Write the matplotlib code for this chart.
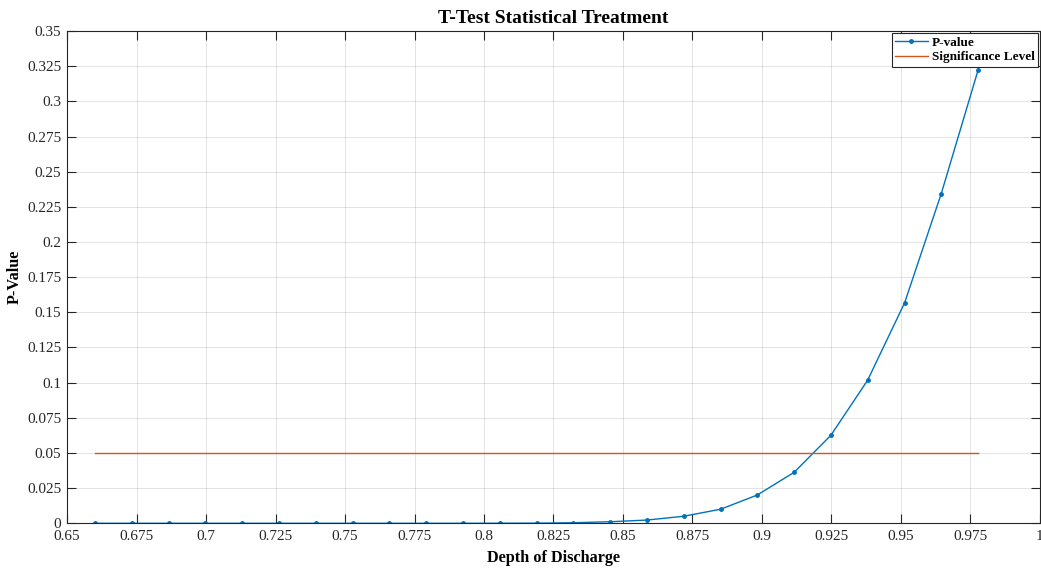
import numpy as np
import matplotlib
matplotlib.use('Agg')
import matplotlib.pyplot as plt

# depth of discharge values and the t-test p-values
dod = [0.6600, 0.6732, 0.6865, 0.6997, 0.7130, 0.7262, 0.7394, 0.7527, 0.7659,
       0.7792, 0.7924, 0.8056, 0.8189, 0.8321, 0.8454, 0.8586, 0.8718, 0.8851,
       0.8983, 0.9116, 0.9248, 0.9380, 0.9513, 0.9645, 0.9778]
p_value = [0.0, 0.0, 0.0, 0.0, 0.0, 0.0, 0.0, 0.0, 0.0,
           0.0, 0.0, 0.00005, 0.0001, 0.0004, 0.0011, 0.0023, 0.0050, 0.0100,
           0.0201, 0.0363, 0.0626, 0.1017, 0.1567, 0.2344, 0.3226]
alpha = 0.05

plt.rcParams['font.family'] = ['Liberation Serif', 'DejaVu Serif']

fig = plt.figure(figsize=(10.41, 5.68), dpi=100)
ax = fig.add_axes([0.0644, 0.0787, 0.9346, 0.8667])

ax.plot(dod, p_value, color='#0072BD', marker='.', markersize=5, linewidth=1.0, label='P-value')
ax.plot([dod[0], dod[-1]], [alpha, alpha], color='#D95319', linewidth=1.0, label='Significance Level')

ax.set_xlim(0.65, 1.0)
ax.set_ylim(0, 0.35)
xt = np.arange(0.65, 1.0001, 0.025)
yt = np.arange(0, 0.3501, 0.025)
ax.set_xticks(xt)
ax.set_yticks(yt)
ax.set_xticklabels(['%g' % round(v, 3) for v in xt])
ax.set_yticklabels(['%g' % round(v, 3) for v in yt])
ax.tick_params(direction='in', length=6.5, width=0.8, labelsize=11, top=True, right=True,
               colors='#262626')
ax.tick_params(axis='x', pad=5)
ax.tick_params(axis='y', pad=4)
ax.grid(True, color='#262626', alpha=0.15, linewidth=0.6)
for s in ax.spines.values():
    s.set_color('#262626')
    s.set_linewidth(0.8)

ax.set_title('T-Test Statistical Treatment', fontsize=14, fontweight='bold', pad=6)
ax.set_xlabel('Depth of Discharge', fontsize=11.7, fontweight='bold', labelpad=5)
ax.set_ylabel('P-Value', fontsize=11.7, fontweight='bold', labelpad=3)

leg = ax.legend(loc='upper right', prop={'weight': 'bold', 'size': 9.5},
                fancybox=False, framealpha=1, edgecolor='#262626', borderaxespad=0.15,
                handlelength=2.5, handletextpad=0.3, borderpad=0.25, labelspacing=0.2)
leg.get_frame().set_linewidth(0.8)

fig.savefig('out.png', dpi=100)
